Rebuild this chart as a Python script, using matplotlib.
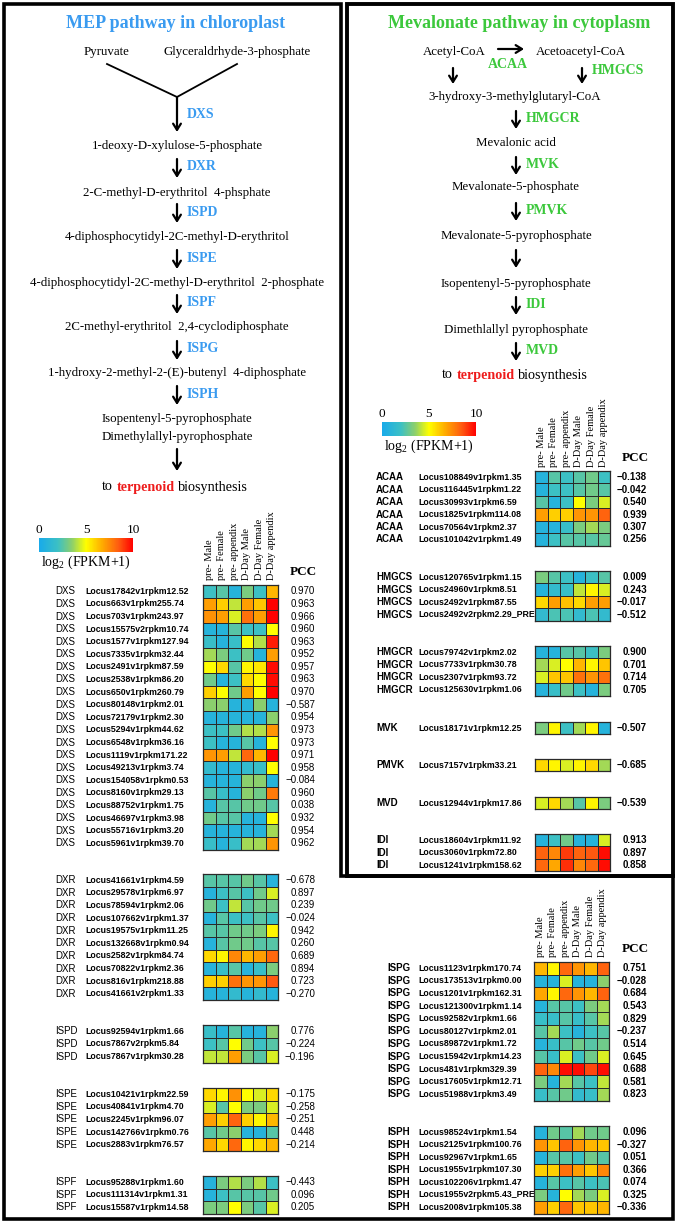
import matplotlib
matplotlib.use('Agg')
import matplotlib.pyplot as plt
import numpy as np
from matplotlib.colors import LinearSegmentedColormap, Normalize
from matplotlib.patches import Polygon, Rectangle
from matplotlib.cm import ScalarMappable

W, H = 678, 1224
SERIF = 'Liberation Serif'
SANS = 'Liberation Sans'
BLUE = '#3a9bf0'
GREEN = '#3cc83c'

samples = ['pre- Male', 'pre- Female', 'pre- appendix', 'D-Day Male', 'D-Day Female', 'D-Day appendix']

# ---------------- MEP pathway (left) ----------------
dxs_loci = ['Locus17842v1rpkm12.52', 'Locus663v1rpkm255.74', 'Locus703v1rpkm243.97', 'Locus15575v2rpkm10.74',
            'Locus1577v1rpkm127.94', 'Locus7335v1rpkm32.44', 'Locus2491v1rpkm87.59', 'Locus2538v1rpkm86.20',
            'Locus650v1rpkm260.79', 'Locus80148v1rpkm2.01', 'Locus72179v1rpkm2.30', 'Locus5294v1rpkm44.62',
            'Locus6548v1rpkm36.16', 'Locus1119v1rpkm171.22', 'Locus49213v1rpkm3.74', 'Locus154058v1rpkm0.53',
            'Locus8160v1rpkm29.13', 'Locus88752v1rpkm1.75', 'Locus46697v1rpkm3.98', 'Locus55716v1rpkm3.20',
            'Locus5961v1rpkm39.70']
dxs_vals = [[2.0, 2.5, 0.8, 3.2, 2.0, 6.5], [7.0, 6.0, 4.2, 7.0, 6.2, 10.0], [7.3, 7.0, 4.5, 8.0, 7.0, 10.0],
            [0.8, 0.8, 2.5, 2.0, 2.0, 5.0], [1.8, 0.8, 1.8, 5.0, 4.0, 9.5], [3.8, 3.2, 2.0, 3.0, 0.8, 7.0],
            [5.0, 5.8, 2.5, 5.2, 5.5, 9.8], [3.0, 0.8, 2.0, 5.8, 5.0, 9.8], [6.0, 5.0, 3.0, 7.0, 5.0, 10.0],
            [3.5, 3.5, 0.8, 0.8, 3.5, 0.8], [0.8, 0.8, 0.8, 0.8, 0.8, 3.5], [2.0, 2.0, 3.0, 4.0, 4.0, 7.2],
            [2.0, 0.8, 0.8, 2.5, 0.8, 5.0], [7.2, 7.0, 4.2, 8.2, 6.5, 10.0], [1.5, 0.8, 0.8, 1.5, 1.8, 5.0],
            [0.8, 0.8, 0.8, 3.5, 3.5, 0.8], [2.5, 1.8, 0.8, 3.5, 3.0, 7.8], [0.8, 2.5, 2.5, 3.0, 3.0, 2.5],
            [3.0, 2.5, 2.5, 0.8, 0.8, 5.0], [0.8, 0.8, 0.8, 0.8, 0.8, 3.8], [1.8, 0.8, 1.8, 3.8, 3.8, 7.2]]
dxs_pcc = [0.970, 0.963, 0.966, 0.960, 0.963, 0.952, 0.957, 0.963, 0.970, -0.587, 0.954, 0.973, 0.973,
           0.971, 0.958, -0.084, 0.960, 0.038, 0.932, 0.954, 0.962]

dxr_loci = ['Locus41661v1rpkm4.59', 'Locus29578v1rpkm6.97', 'Locus78594v1rpkm2.06', 'Locus107662v1rpkm1.37',
            'Locus19575v1rpkm11.25', 'Locus132668v1rpkm0.94', 'Locus2582v1rpkm84.74', 'Locus70822v1rpkm2.36',
            'Locus816v1rpkm218.88', 'Locus41661v2rpkm1.33']
dxr_vals = [[2.5, 2.5, 2.5, 3.0, 2.5, 0.8], [0.8, 2.0, 2.5, 2.0, 3.0, 4.5], [3.0, 2.0, 4.2, 2.5, 3.0, 3.0],
            [0.8, 2.5, 2.0, 2.0, 2.5, 2.0], [2.5, 2.5, 3.0, 3.0, 3.2, 5.2], [0.8, 2.5, 3.0, 3.0, 2.5, 2.5],
            [5.8, 5.2, 7.5, 6.5, 7.0, 8.2], [0.8, 1.8, 2.5, 0.8, 1.8, 3.2], [6.0, 6.0, 8.0, 7.2, 7.2, 8.5],
            [0.8, 0.8, 1.5, 0.8, 1.5, 0.8]]
dxr_pcc = [-0.678, 0.897, 0.239, -0.024, 0.942, 0.260, 0.689, 0.894, 0.723, -0.270]

ispd_loci = ['Locus92594v1rpkm1.66', 'Locus7867v2rpkm5.84', 'Locus7867v1rpkm30.28']
ispd_vals = [[1.8, 0.8, 2.5, 0.8, 0.8, 3.5], [2.0, 2.5, 5.0, 3.0, 2.0, 2.5], [4.2, 4.2, 7.0, 3.2, 2.5, 4.5]]
ispd_pcc = [0.776, -0.224, -0.196]

ispe_loci = ['Locus10421v1rpkm22.59', 'Locus40841v1rpkm4.70', 'Locus2245v1rpkm96.07', 'Locus142766v1rpkm0.76',
             'Locus2883v1rpkm76.57']
ispe_vals = [[5.8, 5.2, 7.3, 5.0, 4.5, 5.8], [4.5, 2.5, 5.0, 3.2, 3.2, 4.5], [7.0, 6.0, 8.3, 6.0, 5.2, 6.5],
             [2.5, 3.0, 3.5, 0.8, 0.8, 2.5], [6.8, 5.8, 8.2, 5.2, 5.8, 6.5]]
ispe_pcc = [-0.175, -0.258, -0.251, 0.448, -0.214]

ispf_loci = ['Locus95288v1rpkm1.60', 'Locus111314v1rpkm1.31', 'Locus15587v1rpkm14.58']
ispf_vals = [[0.8, 3.2, 4.0, 3.2, 4.0, 2.0], [0.8, 2.0, 2.5, 2.5, 2.5, 3.0], [3.2, 3.2, 5.0, 3.2, 2.5, 4.5]]
ispf_pcc = [-0.443, 0.096, 0.205]

ispg_loci = ['Locus1123v1rpkm170.74', 'Locus173513v1rpkm0.00', 'Locus1201v1rpkm162.31', 'Locus121300v1rpkm1.14',
             'Locus92582v1rpkm1.66', 'Locus80127v1rpkm2.01', 'Locus89872v1rpkm1.72', 'Locus15942v1rpkm14.23',
             'Locus481v1rpkm329.39', 'Locus17605v1rpkm12.71', 'Locus51988v1rpkm3.49']
ispg_vals = [[6.5, 5.2, 8.2, 7.2, 6.5, 8.3], [0.8, 0.8, 4.5, 0.8, 0.8, 3.5], [6.8, 5.2, 8.2, 7.2, 6.5, 8.3],
             [0.8, 2.5, 2.5, 2.0, 3.2, 3.8], [1.8, 1.8, 2.5, 1.8, 2.5, 3.8], [2.5, 3.8, 2.0, 0.8, 2.0, 2.5],
             [0.8, 1.8, 2.5, 3.0, 2.5, 3.0], [2.5, 1.8, 4.5, 2.0, 3.0, 4.5], [8.3, 7.5, 9.8, 9.8, 8.8, 9.8],
             [3.2, 0.8, 3.8, 2.5, 2.0, 4.2], [1.8, 2.5, 3.0, 1.5, 1.8, 3.8]]
ispg_pcc = [0.751, -0.028, 0.684, 0.543, 0.829, -0.237, 0.514, 0.645, 0.688, 0.581, 0.823]

isph_loci = ['Locus98524v1rpkm1.54', 'Locus2125v1rpkm100.76', 'Locus92967v1rpkm1.65', 'Locus1955v1rpkm107.30',
             'Locus102206v1rpkm1.47', 'Locus1955v2rpkm5.43_PRE', 'Locus2008v1rpkm105.38']
isph_vals = [[0.8, 3.0, 2.5, 3.8, 3.0, 3.0], [7.2, 6.2, 8.3, 7.2, 6.5, 6.2], [0.8, 2.5, 2.5, 2.0, 3.0, 2.5],
             [6.0, 6.0, 8.0, 7.0, 6.2, 7.5], [0.8, 2.5, 2.0, 2.5, 2.0, 2.3], [3.2, 0.8, 5.0, 3.8, 3.2, 4.5],
             [7.0, 6.0, 8.2, 6.2, 6.2, 6.5]]
isph_pcc = [0.096, -0.327, 0.051, 0.366, 0.074, 0.325, -0.336]

# ---------------- Mevalonate pathway (right) ----------------
acaa_loci = ['Locus108849v1rpkm1.35', 'Locus116445v1rpkm1.22', 'Locus30993v1rpkm6.59', 'Locus1825v1rpkm114.08',
             'Locus70564v1rpkm2.37', 'Locus101042v1rpkm1.49']
acaa_vals = [[0.8, 2.5, 2.0, 2.5, 3.0, 2.0], [0.8, 2.0, 2.0, 2.5, 3.0, 2.5], [2.5, 0.8, 2.0, 5.0, 3.2, 4.5],
             [7.0, 6.0, 6.0, 7.2, 7.2, 8.3], [0.8, 0.8, 1.8, 3.2, 3.8, 3.2], [0.8, 2.0, 2.5, 2.5, 2.5, 2.8]]
acaa_pcc = [-0.138, -0.042, 0.540, 0.939, 0.307, 0.256]

hmgcs_loci = ['Locus120765v1rpkm1.15', 'Locus24960v1rpkm8.51', 'Locus2492v1rpkm87.55', 'Locus2492v2rpkm2.29_PRE']
hmgcs_vals = [[3.2, 2.5, 2.0, 0.8, 2.0, 2.5], [0.8, 1.5, 1.8, 4.2, 5.2, 4.5], [5.8, 7.0, 6.3, 5.8, 7.0, 7.0],
              [1.5, 2.3, 2.3, 1.5, 2.3, 1.5]]
hmgcs_pcc = [0.009, 0.243, -0.017, -0.512]

hmgcr_loci = ['Locus79742v1rpkm2.02', 'Locus7733v1rpkm30.78', 'Locus2307v1rpkm93.72', 'Locus125630v1rpkm1.06']
hmgcr_vals = [[0.8, 0.8, 2.5, 2.5, 2.0, 3.2], [3.8, 4.5, 5.0, 6.5, 5.2, 6.2], [4.5, 6.2, 6.2, 8.0, 7.2, 8.0],
              [0.8, 1.8, 3.0, 2.0, 0.8, 3.2]]
hmgcr_pcc = [0.900, 0.701, 0.714, 0.705]

mvk_loci = ['Locus18171v1rpkm12.25']
mvk_vals = [[3.2, 5.2, 2.0, 3.8, 5.2, 0.8]]
mvk_pcc = [-0.507]

pmvk_loci = ['Locus7157v1rpkm33.21']
pmvk_vals = [[5.8, 5.2, 4.5, 5.2, 5.8, 3.8]]
pmvk_pcc = [-0.685]

mvd_loci = ['Locus12944v1rpkm17.86']
mvd_vals = [[4.5, 5.8, 3.8, 2.5, 5.2, 3.2]]
mvd_pcc = [-0.539]

idi_loci = ['Locus18604v1rpkm11.92', 'Locus3060v1rpkm72.80', 'Locus1241v1rpkm158.62']
idi_vals = [[0.8, 2.0, 3.0, 0.8, 0.8, 4.5], [8.3, 7.5, 9.0, 8.3, 8.5, 9.8], [8.2, 6.8, 9.2, 7.5, 8.2, 9.8]]
idi_pcc = [0.913, 0.897, 0.858]

# pathway text
mep_steps = ['1-deoxy-D-xylulose-5-phosphate', '2-C-methyl-D-erythritol  4-phsphate',
             '4-diphosphocytidyl-2C-methyl-D-erythritol', '4-diphosphocytidyl-2C-methyl-D-erythritol  2-phosphate',
             '2C-methyl-erythritol  2,4-cyclodiphosphate', '1-hydroxy-2-methyl-2-(E)-butenyl  4-diphosphate']
mep_enzymes = ['DXR', 'ISPD', 'ISPE', 'ISPF', 'ISPG', 'ISPH']
mva_steps = ['Mevalonic acid', 'Mevalonate-5-phosphate', 'Mevalonate-5-pyrophosphate',
             'Isopentenyl-5-pyrophosphate', 'Dimethlallyl pyrophosphate']
mva_enzymes = ['HMGCR', 'MVK', 'PMVK', '', 'IDI', 'MVD']

cmap = LinearSegmentedColormap.from_list('fpkm', [
    (0.0, '#18aaea'), (0.2, '#3cc0c4'), (0.35, '#8ccf6c'), (0.5, '#ffff00'),
    (0.68, '#ffa800'), (0.85, '#ff5a10'), (1.0, '#ff0000')])
norm = Normalize(0, 10)

fig = plt.figure(figsize=(W / 100, H / 100), dpi=100)
ax = fig.add_axes([0, 0, 1, 1])
ax.set_xlim(0, W)
ax.set_ylim(H, 0)
ax.axis('off')

PFS = 9.3  # pathway text size


def px_axes(x0, y0, w, h):
    return fig.add_axes([x0 / W, 1 - (y0 + h) / H, w / W, h / H])


def arrow_down(x, y0, y1):
    ax.annotate('', xy=(x, y1), xytext=(x, y0),
                arrowprops=dict(arrowstyle='->, head_length=0.45, head_width=0.28', lw=1.6, color='black',
                                shrinkA=0, shrinkB=0))


def txt(x, y, s, fs=PFS, **kw):
    kw.setdefault('family', SERIF)
    kw.setdefault('ha', 'center')
    kw.setdefault('va', 'center')
    ax.text(x, y, s, fontsize=fs, **kw)


def mixed(xc, y, parts, fs):
    r = fig.canvas.get_renderer()
    gap = 0.25 * fs * 100 / 72
    texts, widths = [], []
    for s, col, wt in parts:
        t = ax.text(0, y, s, fontsize=fs, color=col, fontweight=wt, family=SERIF, va='center', ha='left')
        widths.append(t.get_window_extent(r).width)
        texts.append(t)
    total = sum(widths) + gap * (len(parts) - 1)
    x = xc - total / 2
    for t, w in zip(texts, widths):
        t.set_x(x)
        x += w + gap


# ---------- borders ----------
ax.add_patch(Polygon([(4, 4), (341, 4), (341, 876), (673, 876), (673, 1219), (4, 1219)], closed=True,
                     fill=False, lw=2.6, ec='black'))
ax.add_patch(Rectangle((347, 4), 326, 872, fill=False, lw=2.8, ec='black'))

# ---------- MEP pathway ----------
txt(176, 23, 'MEP pathway in chloroplast', fs=13, color=BLUE, fontweight='bold')
txt(107, 52, 'Pyruvate')
txt(237, 52, 'Glyceraldrhyde-3-phosphate')
ax.plot([107, 177, 237], [64, 97, 64], color='black', lw=1.3)
arrow_down(177, 97, 132)
txt(187, 114, 'DXS', fs=10, color=BLUE, fontweight='bold', ha='left')
txt(177, 146, mep_steps[0])
step_y = [193, 237, 283, 327, 373]
enz_y = [167, 212, 258, 303, 349, 394]
for i, ey in enumerate(enz_y):
    arrow_down(177, ey - 8, ey + 11)
    txt(187, ey, mep_enzymes[i], fs=10, color=BLUE, fontweight='bold', ha='left')
for i, sy in enumerate(step_y):
    txt(177, sy, mep_steps[i + 1])
txt(177, 419, 'Isopentenyl-5-pyrophosphate')
txt(177, 437, 'Dimethylallyl-pyrophosphate')
arrow_down(177, 449, 471)
mixed(175, 487, [('to', 'black', 'normal'), ('terpenoid', '#ee1c1c', 'bold'), ('biosynthesis', 'black', 'normal')], 10.2)

# ---------- Mevalonate pathway ----------
txt(519, 23, 'Mevalonate pathway in cytoplasm', fs=13, color=GREEN, fontweight='bold')
txt(454, 52, 'Acetyl-CoA')
txt(581, 52, 'Acetoacetyl-CoA')
ax.annotate('', xy=(524, 49), xytext=(498, 49),
            arrowprops=dict(arrowstyle='->, head_length=0.45, head_width=0.28', lw=1.6, color='black',
                            shrinkA=0, shrinkB=0))
txt(508, 64, 'ACAA', fs=10, color=GREEN, fontweight='bold')
arrow_down(453, 68, 84)
arrow_down(582, 68, 84)
txt(592, 71, 'HMGCS', fs=10, color=GREEN, fontweight='bold', ha='left')
txt(515, 97, '3-hydroxy-3-methylglutaryl-CoA')
mva_step_y = [143, 187, 236, 284, 330]
mva_enz_y = [119, 165, 211, 258, 305, 351]
for i, ey in enumerate(mva_enz_y):
    arrow_down(516, ey - 8, ey + 10)
    if mva_enzymes[i]:
        txt(526, ey, mva_enzymes[i], fs=10, color=GREEN, fontweight='bold', ha='left')
for i, sy in enumerate(mva_step_y):
    txt(516, sy, mva_steps[i])
mixed(515, 375, [('to', 'black', 'normal'), ('terpenoid', '#ee1c1c', 'bold'), ('biosynthesis', 'black', 'normal')], 10.2)


# ---------- colour bars ----------
def colorbar(x0, y0):
    cax = px_axes(x0, y0, 94, 14)
    cb = fig.colorbar(ScalarMappable(norm=norm, cmap=cmap), cax=cax, orientation='horizontal')
    cb.outline.set_visible(False)
    cax.xaxis.set_ticks_position('top')
    cb.set_ticks([0, 5, 10])
    cax.tick_params(length=0, pad=1.5, labelsize=9.5)
    for lab in cax.get_xticklabels():
        lab.set_family(SERIF)
    ax.text(x0 + 2, y0 + 24, r'log$_\mathregular{2}$ (FPKM+1)', fontsize=10, family=SERIF, ha='left', va='center')


colorbar(39, 538)
colorbar(382, 422)


# ---------- heatmaps ----------
def headers(x0, ybottom, pcc_x, pcc_y):
    for j, s in enumerate(samples):
        ax.text(x0 + 12.5 * (j + 0.5), ybottom, s, rotation=90, fontsize=7.5, family=SERIF,
                ha='center', va='bottom')
    txt(pcc_x, pcc_y, 'PCC', fs=9.5, fontweight='bold')


def fmt(v):
    s = '%.3f' % abs(v)
    return ('\u2212' + s) if v < 0 else s


def block(gene, loci, vals, pcc, top, gx, lx, cx, px, pitch, bold):
    n = len(loci)
    hax = px_axes(cx, top, 75, n * pitch)
    hax.pcolormesh(np.array(vals), cmap=cmap, norm=norm, edgecolors='#2a2a2a', linewidth=0.6)
    hax.set_xlim(0, 6)
    hax.set_ylim(n, 0)
    hax.set_xticks([])
    hax.set_yticks([])
    for sp in hax.spines.values():
        sp.set_linewidth(0.9)
        sp.set_color('#2a2a2a')
    w = 'bold' if bold else 'normal'
    for i in range(n):
        y = top + pitch * (i + 0.5)
        ax.text(gx, y, gene, fontsize=7, family=SANS, fontweight=w, ha='left', va='center')
        ax.text(lx, y, loci[i], fontsize=6.3, family=SANS, fontweight='bold', ha='left', va='center')
        ax.text(px, y, fmt(pcc[i]), fontsize=7, family=SANS, fontweight=w, ha='right', va='center')


headers(203, 580, 303, 572)
L = dict(gx=55, lx=85, cx=203, px=315, pitch=12.6, bold=False)
block('DXS', dxs_loci, dxs_vals, dxs_pcc, 585, **L)
block('DXR', dxr_loci, dxr_vals, dxr_pcc, 874, **L)
block('ISPD', ispd_loci, ispd_vals, ispd_pcc, 1025, **L)
block('ISPE', ispe_loci, ispe_vals, ispe_pcc, 1088, **L)
block('ISPF', ispf_loci, ispf_vals, ispf_pcc, 1176, **dict(L, pitch=12.5))

headers(535, 467, 635, 458)
R = dict(gx=376, lx=418, cx=535, px=647, pitch=12.45, bold=True)
block('ACAA', acaa_loci, acaa_vals, acaa_pcc, 471, **R)
block('HMGCS', hmgcs_loci, hmgcs_vals, hmgcs_pcc, 571, **R)
block('HMGCR', hmgcr_loci, hmgcr_vals, hmgcr_pcc, 646, **R)
block('MVK', mvk_loci, mvk_vals, mvk_pcc, 722, **R)
block('PMVK', pmvk_loci, pmvk_vals, pmvk_pcc, 759, **R)
block('MVD', mvd_loci, mvd_vals, mvd_pcc, 797, **R)
block('IDI', idi_loci, idi_vals, idi_pcc, 834, **R)

headers(534, 957, 635, 949)
R2 = dict(gx=387, lx=418, cx=534, px=647, pitch=12.6, bold=True)
block('ISPG', ispg_loci, ispg_vals, ispg_pcc, 962, **R2)
block('ISPH', isph_loci, isph_vals, isph_pcc, 1126, **dict(R2, pitch=12.5))

fig.savefig('out.png', dpi=100)
